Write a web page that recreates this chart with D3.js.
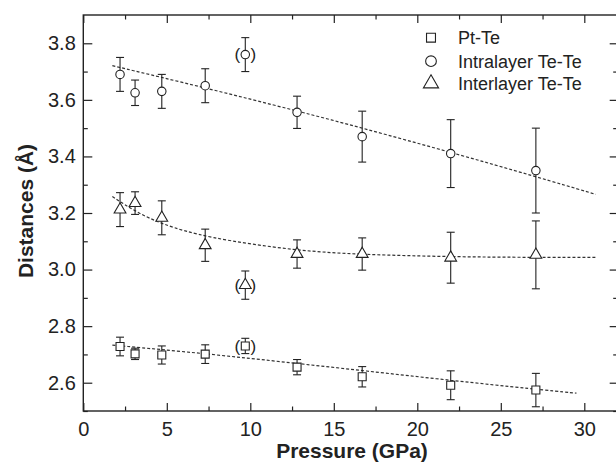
<!DOCTYPE html>
<html>
<head>
<meta charset="utf-8">
<script src="https://cdn.jsdelivr.net/npm/d3@7"></script>
<style>
  html, body { margin: 0; padding: 0; background: #fff; }
  svg { display: block; font-family: "Liberation Sans", Arial, sans-serif; }
</style>
</head>
<body>
<svg id="chart" width="616" height="469"></svg>
<script>
// ---- data ----
const pressure = [2.2, 3.1, 4.7, 7.3, 9.7, 12.8, 16.7, 22.0, 27.1];
const ptTe = [2.728, 2.702, 2.698, 2.701, 2.730, 2.655, 2.621, 2.591, 2.574];
const ptTeErr = [0.033, 0.020, 0.032, 0.033, 0.027, 0.027, 0.036, 0.051, 0.059];
const intraTeTe = [3.690, 3.625, 3.630, 3.650, 3.760, 3.556, 3.470, 3.410, 3.350];
const intraTeTeErr = [0.060, 0.045, 0.060, 0.060, 0.060, 0.057, 0.090, 0.120, 0.150];
const interTeTe = [3.212, 3.235, 3.183, 3.086, 2.945, 3.055, 3.055, 3.042, 3.052];
const interTeTeErr = [0.060, 0.040, 0.060, 0.057, 0.050, 0.050, 0.057, 0.090, 0.120];
const excluded = [false, false, false, false, true, false, false, false, false];

// fitted guide curves
const ptTeFitX = [1.74, 7.34, 12.81, 16.73, 22.04, 27.08, 29.53];
const ptTeFitY = [2.733, 2.703, 2.668, 2.643, 2.608, 2.577, 2.563];
const intraFitX = [1.74, 7.34, 12.81, 16.73, 22.04, 27.08, 30.68];
const intraFitY = [3.721, 3.642, 3.561, 3.500, 3.414, 3.329, 3.266];
const interFitX = [1.74, 3.14, 4.72, 7.34, 12.81, 16.73, 22.04, 27.08, 30.68];
const interFitY = [3.258, 3.204, 3.160, 3.113, 3.066, 3.053, 3.045, 3.043, 3.043];

const xMajorTicks = [0, 5, 10, 15, 20, 25, 30];
const xMinorTicks = [2.5, 7.5, 12.5, 17.5, 22.5, 27.5];
const yMajorTicks = [2.6, 2.8, 3.0, 3.2, 3.4, 3.6, 3.8];
const yMinorTicks = [2.5, 2.7, 2.9, 3.1, 3.3, 3.5, 3.7];

const seriesNames = ["Pt-Te", "Intralayer Te-Te", "Interlayer Te-Te"];
const xTitle = "Pressure (GPa)";
const yTitle = "Distances (Å)";

(function () {
// ---- layout ----
const svg = d3.select("#chart");
const mLeft = 83.3, mRight = 617.7, mTop = 15, mBottom = 411;
const x = d3.scaleLinear().domain([0, 32]).range([mLeft, mRight]);
const y = d3.scaleLinear().domain([2.5, 3.9]).range([mBottom, mTop]);
const ink = "#222";

function styleAxis(g) {
  g.select(".domain").remove();
  g.selectAll(".tick line").attr("stroke", ink).attr("stroke-width", 1.2);
  g.selectAll(".tick text").attr("fill", ink).attr("font-size", 20)
    .attr("font-family", "Liberation Sans, Arial, sans-serif");
}
svg.append("g").attr("transform", `translate(0,${mBottom})`)
  .call(d3.axisBottom(x).tickValues(xMajorTicks).tickFormat(d3.format("d")).tickSize(-8).tickPadding(10.5))
  .call(styleAxis);
svg.append("g").attr("transform", `translate(0,${mBottom})`)
  .call(d3.axisBottom(x).tickValues(xMinorTicks).tickFormat("").tickSize(-4.5))
  .call(styleAxis);
svg.append("g").attr("transform", `translate(0,${mTop})`)
  .call(d3.axisTop(x).tickValues(xMajorTicks).tickFormat("").tickSize(-8))
  .call(styleAxis);
svg.append("g").attr("transform", `translate(0,${mTop})`)
  .call(d3.axisTop(x).tickValues(xMinorTicks).tickFormat("").tickSize(-4.5))
  .call(styleAxis);
svg.append("g").attr("transform", `translate(${mLeft},0)`)
  .call(d3.axisLeft(y).tickValues(yMajorTicks).tickFormat(d3.format(".1f")).tickSize(-9).tickPadding(7.5))
  .call(styleAxis);
svg.append("g").attr("transform", `translate(${mLeft},0)`)
  .call(d3.axisLeft(y).tickValues(yMinorTicks).tickFormat("").tickSize(-4.5))
  .call(styleAxis);
svg.append("g").attr("transform", `translate(${mRight},0)`)
  .call(d3.axisRight(y).tickValues(yMajorTicks).tickFormat("").tickSize(-8))
  .call(styleAxis);
svg.append("g").attr("transform", `translate(${mRight},0)`)
  .call(d3.axisRight(y).tickValues(yMinorTicks).tickFormat("").tickSize(-4.5))
  .call(styleAxis);

svg.append("rect").attr("x", mLeft).attr("y", mTop)
  .attr("width", mRight - mLeft).attr("height", mBottom - mTop)
  .attr("fill", "none").attr("stroke", ink).attr("stroke-width", 1.4);

// axis titles
svg.append("text").attr("x", 352).attr("y", 458).attr("text-anchor", "middle")
  .attr("font-size", 21).attr("font-weight", "bold").attr("fill", ink).text(xTitle);
svg.append("text").attr("transform", `translate(33,211) rotate(-90)`).attr("text-anchor", "middle")
  .attr("font-size", 21).attr("font-weight", "bold").attr("fill", ink).text(yTitle);

// fit lines
const line = d3.line().x(d => x(d[0])).y(d => y(d[1])).curve(d3.curveBasis);
[[ptTeFitX, ptTeFitY], [intraFitX, intraFitY], [interFitX, interFitY]].forEach(([fx, fy]) => {
  svg.append("path").datum(fx.map((v, i) => [v, fy[i]]))
    .attr("d", line).attr("fill", "none").attr("stroke", "#333")
    .attr("stroke-width", 1.2).attr("stroke-dasharray", "3,2");
});

// markers
const symbols = [d3.symbolSquare, d3.symbolCircle, d3.symbolTriangle];
const sizes = [64, 56, 60];
const series = [[ptTe, ptTeErr], [intraTeTe, intraTeTeErr], [interTeTe, interTeTeErr]];
series.forEach(([vals, errs], s) => {
  const g = svg.append("g");
  const pts = pressure.map((p, i) => ({ p, v: vals[i], e: errs[i], ex: excluded[i] }));
  pts.forEach(d => {
    const cx = x(d.p), y1 = y(d.v + d.e), y2 = y(d.v - d.e);
    g.append("line").attr("x1", cx).attr("x2", cx).attr("y1", y1).attr("y2", y2)
      .attr("stroke", ink).attr("stroke-width", 1.1);
    [y1, y2].forEach(yy => g.append("line").attr("x1", cx - 4).attr("x2", cx + 4)
      .attr("y1", yy).attr("y2", yy).attr("stroke", ink).attr("stroke-width", 1.1));
  });
  g.selectAll("path.m").data(pts).join("path").attr("class", "m")
    .attr("transform", d => `translate(${x(d.p)},${y(d.v)})`)
    .attr("d", d3.symbol().type(symbols[s]).size(sizes[s]))
    .attr("fill", "#fff").attr("stroke", ink).attr("stroke-width", 1.1);
  pts.filter(d => d.ex).forEach(d => {
    g.append("text").attr("x", x(d.p) - 8).attr("y", y(d.v)).attr("dy", "0.33em")
      .attr("text-anchor", "middle").attr("font-size", 17).attr("fill", ink).text("(");
    g.append("text").attr("x", x(d.p) + 8).attr("y", y(d.v)).attr("dy", "0.33em")
      .attr("text-anchor", "middle").attr("font-size", 17).attr("fill", ink).text(")");
  });
});

// legend
const legY = [37.7, 61.2, 83.5];
const legSizes = [80, 90, 100];
seriesNames.forEach((name, i) => {
  svg.append("path").attr("transform", `translate(431,${legY[i]})`)
    .attr("d", d3.symbol().type(symbols[i]).size(legSizes[i]))
    .attr("fill", "#fff").attr("stroke", ink).attr("stroke-width", 1.1);
  svg.append("text").attr("x", 458).attr("y", legY[i]).attr("dy", "0.35em")
    .attr("font-size", 18).attr("fill", ink).text(name);
});
})();
</script>
</body>
</html>
